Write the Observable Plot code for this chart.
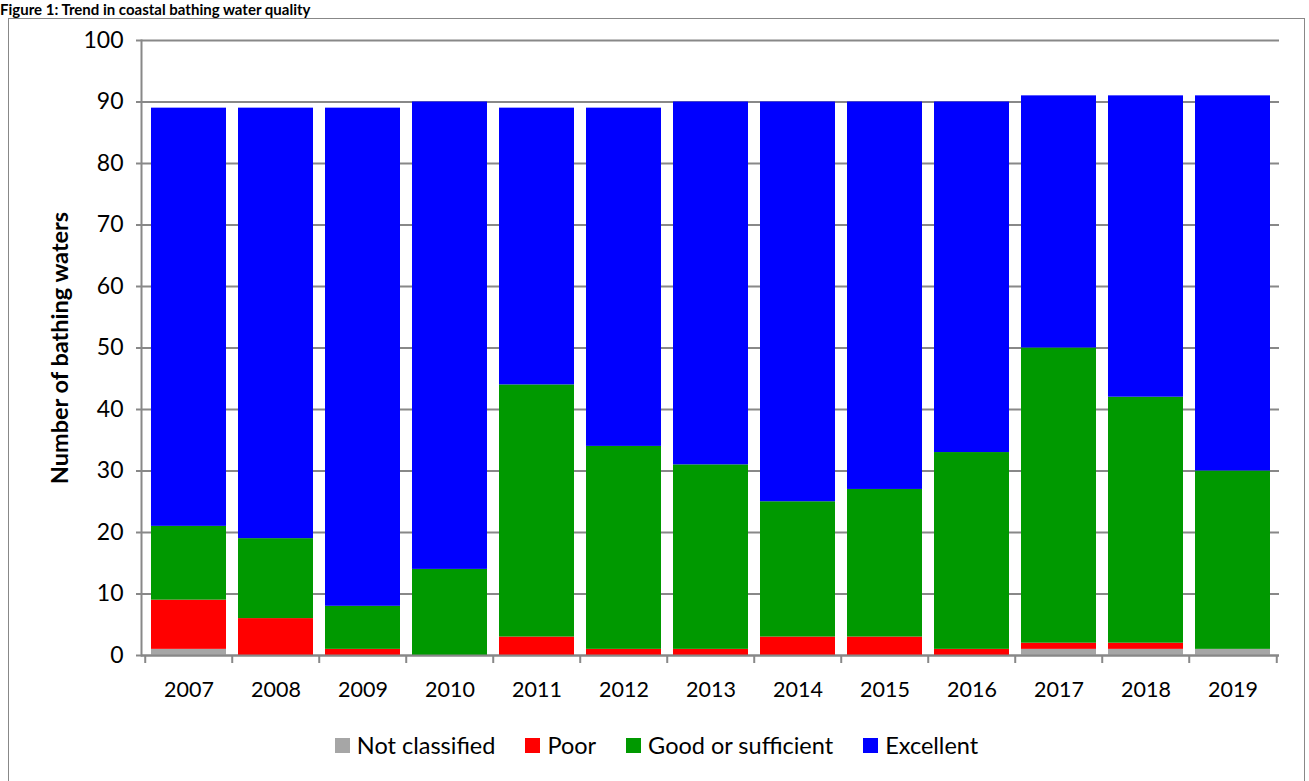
<!DOCTYPE html>
<html>
<head>
<meta charset="utf-8">
<script src="https://cdn.jsdelivr.net/npm/d3@7"></script>
<script src="https://cdn.jsdelivr.net/npm/@observablehq/plot@0.6"></script>
<style>
  html, body { margin: 0; padding: 0; background: #fff; }
  #page { position: relative; width: 1309px; height: 781px; overflow: hidden; font-family: Lato, "Open Sans", sans-serif; }
  #box { position: absolute; left: 8px; top: 18px; width: 1297px; height: 790px; border: 1.5px solid #888; box-sizing: border-box; }
  #title { position: absolute; left: 0px; top: 0px; font-weight: bold; font-size: 15px; line-height: 18px; color: #000; white-space: nowrap; }
  #chart { position: absolute; left: 0; top: 0; }
  #legend { position: absolute; left: 0; width: 1309px; top: 731px; display: flex; justify-content: center; padding-left: 4px; box-sizing: border-box; font-size: 23.5px; color: #000; }
  .item { display: flex; align-items: center; margin: 0 15px; }
  .sw { width: 15px; height: 15px; margin-right: 7px; }
</style>
</head>
<body>
<div id="page">
  <div id="box"></div>
  <div id="title">Figure 1: Trend in coastal bathing water quality</div>
  <div id="chart"></div>
  <div id="legend"></div>
</div>
<script>
const years = ["2007","2008","2009","2010","2011","2012","2013","2014","2015","2016","2017","2018","2019"];
const categories = ["Not classified", "Poor", "Good or sufficient", "Excellent"];
const colors = ["#A6A6A6", "#FF0000", "#009900", "#0000FF"];
const notClassified = [1,0,0,0,0,0,0,0,0,0,1,1,1];
const poor = [8,6,1,0,3,1,1,3,3,1,1,1,0];
const good = [12,13,7,14,41,33,30,22,24,32,48,40,29];
const excellent = [68,70,81,76,45,55,59,65,63,57,41,49,61];
const yTicks = [0,10,20,30,40,50,60,70,80,90,100];

const series = [notClassified, poor, good, excellent];
const data = [];
categories.forEach((c, k) => years.forEach((y, i) => data.push({year: y, cat: c, value: series[k][i]})));

const W = 1309, H = 725, mL = 141, mR = 30, mT = 40, mB = 70;
const step = (W - mL - mR) / years.length;
const grey = "#888";

const plot = Plot.plot({
  width: W, height: H,
  marginLeft: mL, marginRight: mR, marginTop: mT, marginBottom: mB,
  style: {fontFamily: "Lato, 'Open Sans', sans-serif", color: "#000", background: "transparent"},
  x: {type: "band", domain: years, paddingInner: 0.14, paddingOuter: 0.07, label: null},
  y: {domain: [0, 100], ticks: yTicks, label: null},
  color: {domain: categories, range: colors},
  marks: [
    Plot.gridY(yTicks, {stroke: grey, strokeOpacity: 1, strokeWidth: 2}),
    Plot.barY(data, {x: "year", y: "value", fill: "cat", order: categories}),
    Plot.ruleY([0], {stroke: grey, strokeWidth: 2}),
    Plot.frame({anchor: "left", stroke: grey, strokeWidth: 2}),
    Plot.ruleX(years, {x: d => d, y1: 0, y2: -1.3, dx: -step / 2, stroke: grey, strokeWidth: 2}),
    Plot.ruleX(years.slice(-1), {x: d => d, y1: 0, y2: -1.3, dx: step / 2, stroke: grey, strokeWidth: 2}),
    Plot.axisY(yTicks, {tickSize: 5, tickPadding: 13, fontSize: 23, stroke: grey, strokeWidth: 2, label: null}),
    Plot.axisX({tickSize: 0, tickPadding: 26, fontSize: 21.5, label: null}),
    Plot.text(["Number of bathing waters"], {frameAnchor: "left", textAnchor: "middle", rotate: -90, dx: -81, fontWeight: "bold", fontSize: 23.5, fill: "#000"})
  ]
});
document.getElementById("chart").appendChild(plot);

const legend = document.getElementById("legend");
categories.forEach((c, k) => {
  const item = document.createElement("div");
  item.className = "item";
  item.innerHTML = `<div class="sw" style="background:${colors[k]}"></div><span>${c}</span>`;
  legend.appendChild(item);
});
</script>
</body>
</html>
